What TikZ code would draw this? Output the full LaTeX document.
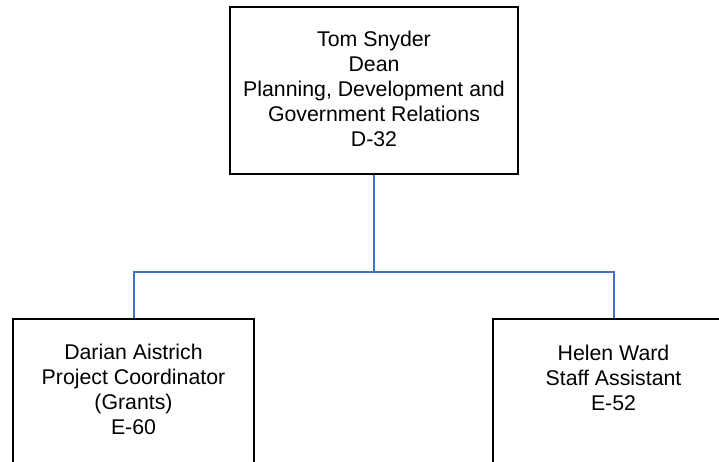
\documentclass[tikz,border=0pt]{standalone}
\usepackage{fontspec}
\setmainfont{Liberation Sans}
\definecolor{linkblue}{HTML}{4472C4}
\tikzset{
  box/.style={draw=black,line width=2pt,inner sep=0pt},
  txt/.style={font=\fontsize{21.3}{25}\selectfont,align=center,inner sep=0pt,anchor=north},
  link/.style={draw=linkblue,line width=2pt}
}
\begin{document}
\begin{tikzpicture}[x=1pt,y=-1pt]
\useasboundingbox (0,0) rectangle (719,461);
\clip (0,0) rectangle (719,461);
% boxes
\node[box,minimum width=288pt,minimum height=167pt] (dean) at (374,90.5) {};
\node[box,minimum width=241pt,minimum height=160pt] (darian) at (133.5,399) {};
\node[box,minimum width=241pt,minimum height=160pt] (helen) at (613.5,399) {};
% texts
\node[txt] (deant) at (374,30.4) {Tom Snyder\\Dean\\Planning, Development and\\Government Relations\\D-32};
\node[txt] (dariant) at (133.5,343.7) {Darian Aistrich\\Project Coordinator\\(Grants)\\E-60};
\node[txt] (helent) at (613.5,344.7) {Helen Ward\\Staff Assistant\\E-52};
% connectors
\path (dean.south) ++(0,96.5) coordinate (j);
\draw[link] (dean.south) -- (j);
\draw[link] (darian.north) |- (j) -| (helen.north);
\end{tikzpicture}
\end{document}
